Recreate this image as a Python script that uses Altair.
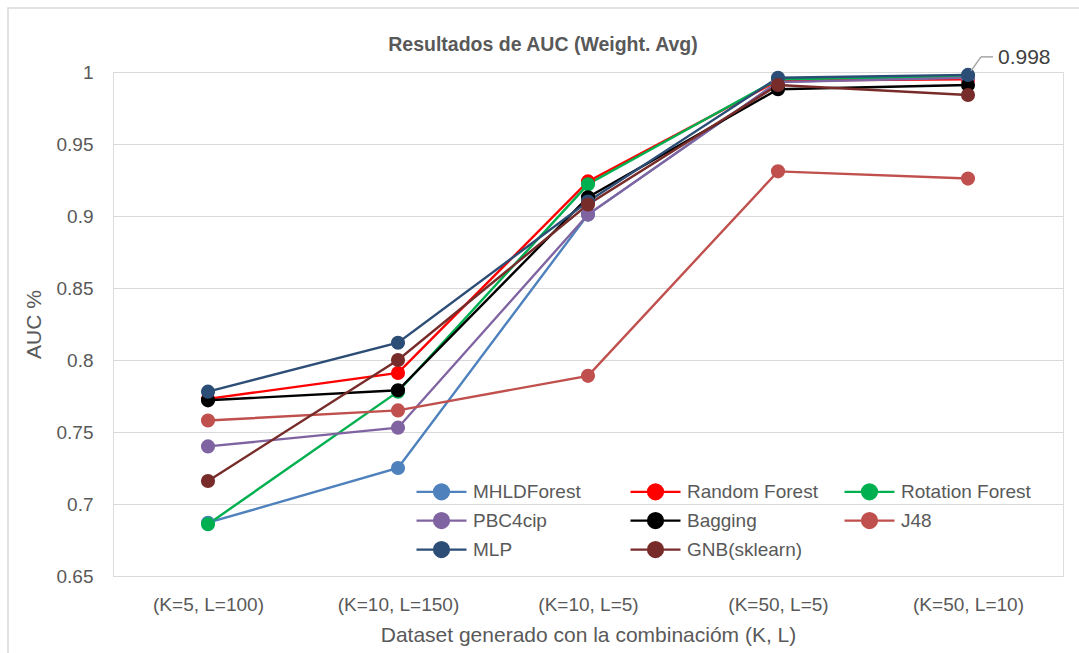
import altair as alt
import pandas as pd

categories = ["(K=5, L=100)", "(K=10, L=150)", "(K=10, L=5)", "(K=50, L=5)", "(K=50, L=10)"]
series_names = ["MHLDForest", "Random Forest", "Rotation Forest", "PBC4cip",
                "Bagging", "J48", "MLP", "GNB(sklearn)"]
mhldforest = [0.687, 0.725, 0.901, 0.993, 0.997]
random_forest = [0.773, 0.791, 0.924, 0.994, 0.995]
rotation_forest = [0.686, 0.778, 0.922, 0.995, 0.997]
pbc4cip = [0.740, 0.753, 0.901, 0.993, 0.996]
bagging = [0.772, 0.779, 0.913, 0.988, 0.991]
j48 = [0.758, 0.765, 0.789, 0.931, 0.926]
mlp = [0.778, 0.812, 0.910, 0.996, 0.998]
gnb = [0.716, 0.800, 0.908, 0.991, 0.984]
colors = ["#4F81BD", "#FF0000", "#00B050", "#8064A2", "#000000", "#C0504D", "#2C4D75", "#772C2A"]
y_ticks = [0.65, 0.7, 0.75, 0.8, 0.85, 0.9, 0.95, 1.0]
annot_label = "0.998"
chart_title = "Resultados de AUC (Weight. Avg)"

all_vals = [mhldforest, random_forest, rotation_forest, pbc4cip, bagging, j48, mlp, gnb]
rows = []
for s, vals in zip(series_names, all_vals):
    for c, v in zip(categories, vals):
        rows.append({"cat": c, "series": s, "value": v})
df = pd.DataFrame(rows)

W, H = 950, 504
FONT = "Liberation Sans"
GREY = "#595959"

x_enc = alt.X("cat:N",
              scale=alt.Scale(type="point", padding=0.5, domain=categories),
              axis=alt.Axis(title="Dataset generado con la combinacióm (K, L)",
                            labelAngle=0, ticks=False, domainColor="#D9D9D9",
                            labelFontSize=19, labelColor=GREY, labelPadding=19,
                            titleFontSize=21, titleColor=GREY, titleFontWeight="normal",
                            titlePadding=10, grid=False))
y_enc = alt.Y("value:Q",
              scale=alt.Scale(domain=[0.65, 1.0], nice=False, zero=False),
              axis=alt.Axis(title="AUC %", values=y_ticks, format=".2~f",
                            ticks=False, domain=False, gridColor="#D9D9D9",
                            labelFontSize=19, labelColor=GREY, labelPadding=20,
                            titleFontSize=21, titleColor=GREY, titleFontWeight="normal",
                            titlePadding=12))

legend = alt.Legend(
    title=None, orient="none", legendX=302, legendY=408, columns=3,
    direction="horizontal",
    gridAlign="all", columnPadding=22, rowPadding=4,
    symbolType="M-1,0L4,0M2.25,0A0.75,0.75,0,1,1,0.75,0A0.75,0.75,0,1,1,2.25,0Z",
    symbolSize=400, symbolStrokeWidth=2.25, labelOffset=35,
    labelFontSize=19, labelColor=GREY, labelFont=FONT,
    symbolOpacity=1)

color_enc = alt.Color("series:N", sort=series_names,
                      scale=alt.Scale(domain=series_names, range=colors),
                      legend=legend)

base = alt.Chart(df)
lines = base.mark_line(strokeWidth=2.4).encode(x=x_enc, y=y_enc, color=color_enc)
points = base.mark_point(filled=True, size=200, opacity=1).encode(x=x_enc, y=y_enc, color=color_enc)

annot_df = pd.DataFrame({"cat": [categories[-1]], "value": [mlp[-1]], "label": [annot_label]})
abase = alt.Chart(annot_df)
lead1 = abase.mark_rule(color="#A6A6A6", strokeWidth=1.5, xOffset=3, yOffset=-4,
                        x2Offset=13, y2Offset=-18).encode(
    x="cat:N", y="value:Q", x2="cat:N", y2="value:Q")
lead2 = abase.mark_rule(color="#A6A6A6", strokeWidth=1.5, xOffset=13, yOffset=-18,
                        x2Offset=25, y2Offset=-18).encode(
    x="cat:N", y="value:Q", x2="cat:N", y2="value:Q")
atext = abase.mark_text(align="left", baseline="middle", dx=30, dy=-17,
                        fontSize=21, color="#404040", font=FONT).encode(
    x="cat:N", y="value:Q", text="label:N")

title_df = pd.DataFrame({"t": [chart_title]})
title_mark = alt.Chart(title_df).mark_text(
    fontSize=19.5, fontWeight="bold", color=GREY, font=FONT, align="center",
    baseline="middle").encode(x=alt.value(430), y=alt.value(-27), text="t:N")

border = alt.Chart(pd.DataFrame({"a": [0]})).mark_rect(
    fill=None, stroke="#D9D9D9", strokeWidth=1.5).encode(
    x=alt.value(-105), x2=alt.value(975), y=alt.value(-64), y2=alt.value(590))

chart = alt.layer(border, lines, points, lead1, lead2, atext, title_mark).properties(
    width=W, height=H,
    padding={"left": 113, "top": 72, "right": 16, "bottom": 77},
    autosize=alt.AutoSizeParams(type="none"),
).configure_view(stroke=None).configure(font=FONT)

chart.save("out.html", embed_options={"renderer": "svg", "actions": False})
